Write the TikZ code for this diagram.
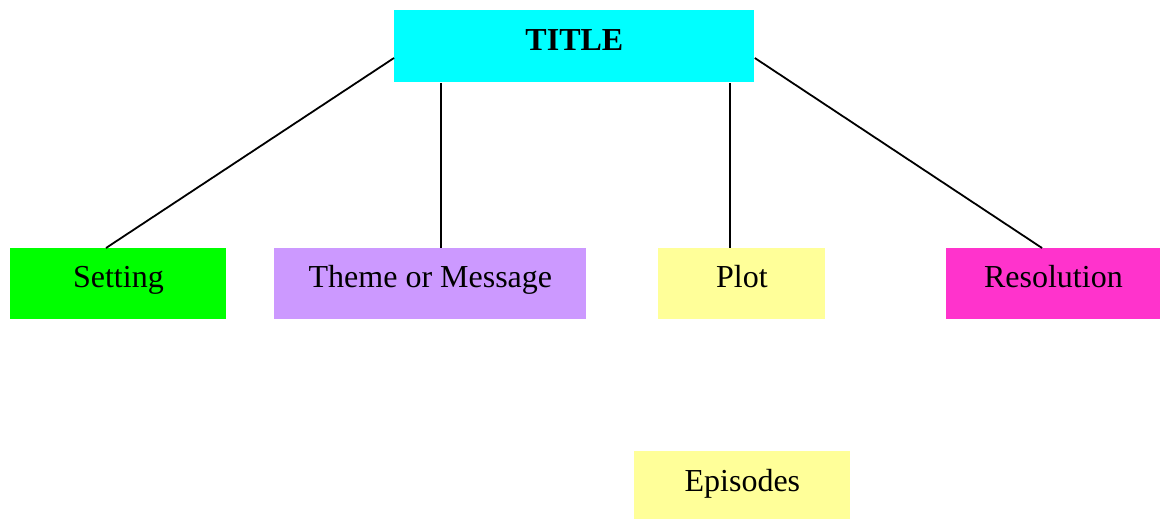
\documentclass[tikz,border=0pt]{standalone}
\usepackage{fontspec}
\setmainfont{Liberation Serif}
\begin{document}
\begin{tikzpicture}[x=0.5pt,y=-0.5pt,
  box/.style={anchor=north west,inner sep=0pt,align=center,
    font=\fontsize{16}{19}\selectfont,text height=19.5pt,text depth=16pt},
  link/.style={draw=black,line width=0.9pt}]
\useasboundingbox (0,0) rectangle (1160,519);
\definecolor{cyanbox}{RGB}{0,255,255}
\definecolor{greenbox}{RGB}{0,255,0}
\definecolor{lilac}{RGB}{204,153,255}
\definecolor{paleyellow}{RGB}{255,255,153}
\definecolor{pinkbox}{RGB}{255,51,204}
% top box
\node[box,fill=cyanbox,minimum width=180pt,text height=20pt,text depth=16pt,
  font=\fontsize{16}{19}\selectfont\bfseries] (title) at (394,10) {TITLE};
% second row
\node[box,fill=greenbox,minimum width=108pt] (setting) at (10,248) {Setting};
\node[box,fill=lilac,minimum width=156pt] (theme) at (274,248) {Theme or Message};
\node[box,fill=paleyellow,minimum width=83.5pt] (plot) at (658,248) {Plot};
\node[box,fill=pinkbox,minimum width=107pt] (resolution) at (946,248) {Resolution};
% bottom box
\node[box,fill=paleyellow,minimum width=108pt,text height=20pt,text depth=14pt] (episodes) at (634,451) {Episodes};
% connectors
\draw[link] ([yshift=-24pt]title.north west) -- ([xshift=48pt]setting.north west);
\draw[link] ([xshift=83.5pt]theme.north west |- title.south) -- ([xshift=83.5pt]theme.north west);
\draw[link] ([xshift=36pt]plot.north west |- title.south) -- ([xshift=36pt]plot.north west);
\draw[link] ([yshift=-24pt]title.north east) -- ([xshift=48pt]resolution.north west);
\end{tikzpicture}
\end{document}
